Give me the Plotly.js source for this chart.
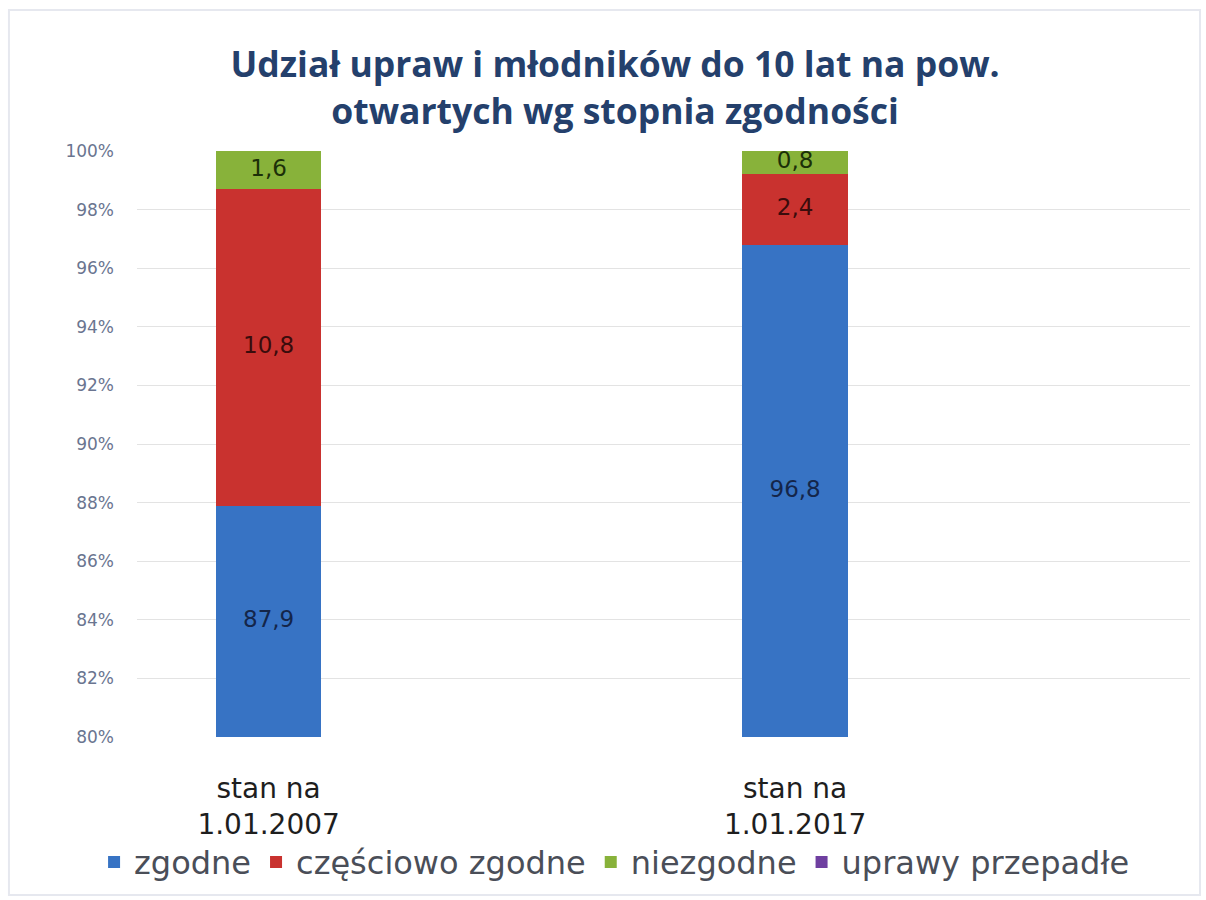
<!DOCTYPE html>
<html>
<head>
<meta charset="utf-8">
<script src="https://cdn.plot.ly/plotly-3.0.1.min.js"></script>
<style>html,body{margin:0;padding:0;background:#fff;}#chart{width:1206px;height:900px;}</style>
</head>
<body>
<div id="chart"></div>
<script>
const categories = ["stan na<br>1.01.2007", "stan na<br>1.01.2017"];
const zgodne = [87.9, 96.8];
const czesciowoZgodne = [10.8, 2.4];
const niezgodne = [1.6, 0.8];
const uprawyPrzepadle = [0, 0];
const seriesNames = ["zgodne", "częściowo zgodne", "niezgodne", "uprawy przepadłe"];
const seriesColors = ["#3773c4", "#c9322f", "#88b23a", "#6f3fa0"];
const labelColors = ["#14264a", "#3a0c0c", "#1c3008", "#222"];
const yTicks = [80, 82, 84, 86, 88, 90, 92, 94, 96, 98, 100];
const yMin = 80, yMax = 100;

const FONT = '"DejaVu Sans", "Open Sans", sans-serif';
const seriesValues = [zgodne, czesciowoZgodne, niezgodne, uprawyPrzepadle];
const traces = seriesValues.map((vals, i) => ({
  type: 'bar',
  name: seriesNames[i],
  x: categories,
  y: vals,
  marker: {color: seriesColors[i], line: {width: 0}},
  hoverinfo: 'skip'
}));

// data labels, centred on the visible part of each stacked segment
const cum = categories.map(() => 0);
seriesValues.forEach((vals, i) => {
  const ys = [], txt = [];
  vals.forEach((v, j) => {
    const lo = Math.max(cum[j], yMin), hi = Math.min(cum[j] + v, yMax);
    cum[j] += v;
    ys.push((lo + hi) / 2);
    txt.push(v > 0 ? v.toFixed(1).replace('.', ',') : '');
  });
  traces.push({
    type: 'scatter', mode: 'text',
    x: categories, y: ys, text: txt,
    textfont: {family: FONT, size: 23, color: labelColors[i]},
    textposition: 'middle center',
    showlegend: false, hoverinfo: 'skip', cliponaxis: false
  });
});

const layout = {
  width: 1206, height: 900,
  barmode: 'stack',
  bargap: 0.8,
  paper_bgcolor: '#ffffff',
  plot_bgcolor: '#ffffff',
  margin: {l: 137, r: 16, t: 151, b: 163},
  title: {
    text: '<b>Udział upraw i młodników do 10 lat na pow.<br>otwartych wg stopnia zgodności</b>',
    font: {family: '"Open Sans", sans-serif', size: 35.5, color: '#24406c'},
    x: 0.51, xanchor: 'center',
    y: 0.914, yanchor: 'middle', yref: 'container'
  },
  xaxis: {
    type: 'category',
    range: [-0.25, 1.75],
    showgrid: false, zeroline: false, showline: false,
    ticks: '',
    tickfont: {family: FONT, size: 28, color: '#1e1e1e'},
    ticklabelstandoff: 32
  },
  yaxis: {
    range: [yMin, yMax],
    tickvals: yTicks,
    ticktext: yTicks.map(v => v + '%'),
    showgrid: true, gridcolor: '#e3e3e3', gridwidth: 1,
    zeroline: false, showline: false, ticks: '',
    tickfont: {family: FONT, size: 17, color: '#6a7590'},
    ticklabelstandoff: 22
  },
  showlegend: true,
  legend: {
    orientation: 'h',
    xref: 'container', yref: 'container',
    x: 0.078, xanchor: 'left',
    y: 0.042, yanchor: 'middle',
    font: {family: FONT, size: 32, color: '#4a4e58'},
    traceorder: 'normal',
    itemwidth: 30,
    bgcolor: 'rgba(0,0,0,0)'
  },
  shapes: [{
    type: 'rect', xref: 'paper', yref: 'paper',
    x0: -0.1216, x1: 1.0095, y0: -0.2696, y1: 1.2406,
    line: {color: '#e6e8ef', width: 2}, fillcolor: 'rgba(0,0,0,0)', layer: 'below'
  }]
};

Plotly.newPlot('chart', traces, layout, {displayModeBar: false, staticPlot: true});
</script>
</body>
</html>
